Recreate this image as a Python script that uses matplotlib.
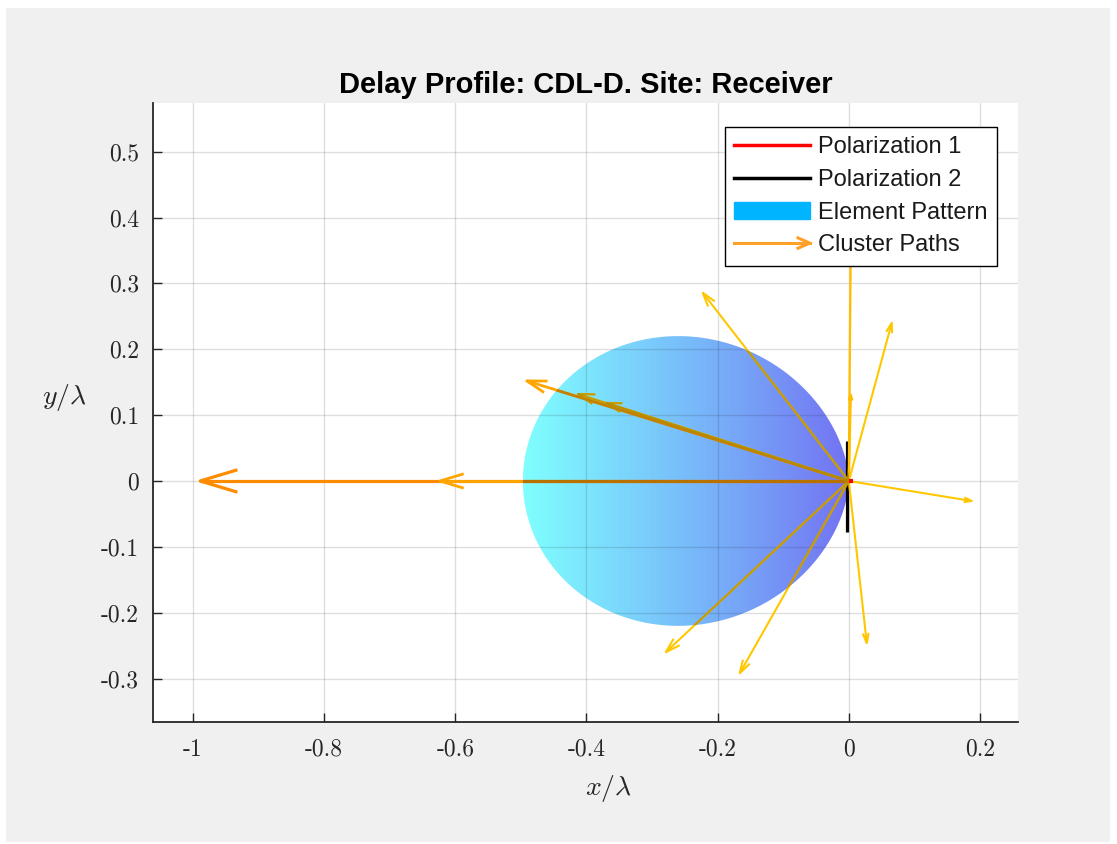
import numpy as np
import matplotlib
matplotlib.use('Agg')
import matplotlib.pyplot as plt
from matplotlib.colors import LinearSegmentedColormap
from matplotlib.patches import Polygon, Rectangle, Patch
from matplotlib.lines import Line2D
from matplotlib.legend_handler import HandlerBase

plt.rcParams['mathtext.fontset'] = 'cm'

# ---------------- data ----------------
# cluster path end points (x/lambda, y/lambda), arrows start at the origin
path_dx = [-0.989, -0.6235, -0.491, -0.413, -0.369, -0.2226, 0.003, 0.003,
           0.0655, 0.1875, 0.0274, -0.1662, -0.279]
path_dy = [0.0, 0.0, 0.152, 0.132, 0.1185, 0.2857, 0.37, 0.131,
           0.2401, -0.0304, -0.2462, -0.2918, -0.2599]
# relative path power (dB) -> arrow colour
path_power_db = [0, -4, -4, -10, -10, -10, -8, -8, -10, -10, -10, -10, -10]

# polarization vectors
pol1_x = [0.0, 0.007]
pol1_y = [0.0, 0.0]
pol2_x = [-0.002, -0.002]
pol2_y = [0.06, -0.078]

# element pattern (cut in the azimuth plane): r = depth * cos(phi)^exponent, pointing to -x
pattern_depth = 0.497
pattern_exponent = 1.4

xticks = [-1.0, -0.8, -0.6, -0.4, -0.2, 0.0, 0.2]
xticklabels = ['-1', '-0.8', '-0.6', '-0.4', '-0.2', '0', '0.2']
yticks = [-0.3, -0.2, -0.1, 0.0, 0.1, 0.2, 0.3, 0.4, 0.5]
yticklabels = ['-0.3', '-0.2', '-0.1', '0', '0.1', '0.2', '0.3', '0.4', '0.5']

title = 'Delay Profile: CDL-D. Site: Receiver'
legend_labels = ['Polarization 1', 'Polarization 2', 'Element Pattern', 'Cluster Paths']

# ---------------- figure ----------------
W, H = 1117, 844
fig = plt.figure(figsize=(W / 100, H / 100), dpi=100, facecolor='white')
fig.patches.append(Rectangle((6 / W, 2 / H), (1110 - 6) / W, (836 - 2) / H,
                             transform=fig.transFigure, facecolor='#f0f0f0',
                             edgecolor='none', zorder=-10))
ax = fig.add_axes([153 / W, 122 / H, 865 / W, 619 / H])
ax.set_facecolor('white')

# element pattern shape
phi = np.linspace(-np.pi / 2, np.pi / 2, 600)
r = pattern_depth * np.cos(phi) ** pattern_exponent
pat_x = -r * np.cos(phi)
pat_y = r * np.sin(phi)
poly = Polygon(np.column_stack([pat_x, pat_y]), closed=True,
               facecolor='none', edgecolor='none')
ax.add_patch(poly)
pat_cmap = LinearSegmentedColormap.from_list(
    'pat', [(0.5, 1.0, 1.0), (0.47, 0.74, 0.98), (0.45, 0.45, 0.95)])
grad = np.linspace(0, 1, 256)[None, :]
img = ax.imshow(grad, extent=[-pattern_depth, 0, -0.25, 0.25], cmap=pat_cmap,
                aspect='auto', zorder=1, interpolation='bilinear', origin='lower')
img.set_clip_path(poly)

# cluster path arrows
arrow_cmap = LinearSegmentedColormap.from_list(
    'arr', [(1.0, 0.78, 0.0), (1.0, 0.67, 0.0), (1.0, 0.55, 0.0)])
pmin, pmax = min(path_power_db), max(path_power_db)
for dx, dy, p in zip(path_dx, path_dy, path_power_db):
    t = (p - pmin) / (pmax - pmin)
    col = np.array(arrow_cmap(t)[:3])
    lw = 1.5 + 0.8 * t
    L = np.hypot(dx, dy)
    ux, uy = dx / L, dy / L
    h = 0.055 * L
    w = 0.3 * h
    bx1, by1 = dx - h * ux - w * uy, dy - h * uy + w * ux
    bx2, by2 = dx - h * ux + w * uy, dy - h * uy - w * ux
    for clip in (False, True):
        c = col if not clip else col * 0.7
        a = 1.0 if not clip else 0.75
        lines = ax.plot([0, dx], [0, dy], color=c, alpha=a, lw=lw,
                        solid_capstyle='butt', zorder=3 + (0.1 if clip else 0))
        lines += ax.plot([bx1, dx, bx2], [by1, dy, by2], color=c, alpha=a,
                         lw=lw, zorder=3 + (0.1 if clip else 0))
        if clip:
            for ln in lines:
                ln.set_clip_path(poly)

# polarization
ax.plot(pol2_x, pol2_y, color='black', lw=2.3, zorder=2.8, solid_capstyle='butt')
ax.plot(pol1_x, pol1_y, color='red', lw=3.0, zorder=5, solid_capstyle='butt')

# axes styling
ax.set_xlim(-1.061, 0.258)
ax.set_ylim(-0.366, 0.574)
ax.set_xticks(xticks)
ax.set_yticks(yticks)
ax.set_xticklabels(xticklabels, fontfamily='cmr10', fontsize=17)
ax.set_yticklabels(yticklabels, fontfamily='cmr10', fontsize=17)
ax.tick_params(direction='in', length=6.5, width=1.0, colors='#262626',
               top=False, right=False)
ax.tick_params(axis='x', pad=12)
ax.tick_params(axis='y', pad=10)
ax.spines['top'].set_visible(False)
ax.spines['right'].set_visible(False)
for s in ('left', 'bottom'):
    ax.spines[s].set_color('#262626')
    ax.spines[s].set_linewidth(1.3)
ax.set_axisbelow(False)
ax.grid(True, color=(0.15, 0.15, 0.15), alpha=0.15, lw=1.0)

ax.set_xlabel(r'$x/\lambda$', fontsize=20, color='#262626', va='center')
ax.xaxis.set_label_coords(0.527, -0.107)
ax.set_ylabel(r'$y/\lambda$', fontsize=20, color='#262626', rotation=0,
              ha='center', va='center')
ax.yaxis.set_label_coords(-0.102, 0.525)

ax.set_title(title, fontsize=21, fontweight='bold', family='Liberation Sans',
             color='black', pad=7)


class ArrowHandler(HandlerBase):
    def create_artists(self, legend, orig_handle, xdescent, ydescent, width,
                       height, fontsize, trans):
        y = height / 2 - ydescent
        x0, x1 = -xdescent, width - xdescent
        col = orig_handle.get_color()
        hl = 0.5 * fontsize
        hw = 0.22 * fontsize
        shaft = Line2D([x0, x1], [y, y], color=col, lw=2.2, transform=trans)
        head = Line2D([x1 - hl, x1, x1 - hl], [y + hw, y, y - hw], color=col,
                      lw=2.2, transform=trans)
        return [shaft, head]


h1 = Line2D([], [], color='red', lw=2.5)
h2 = Line2D([], [], color='black', lw=2.5)
h3 = Patch(facecolor='#00b4ff', edgecolor='#00b4ff')
h4 = Line2D([], [], color='#ffa028', lw=2.2)
leg = ax.legend([h1, h2, h3, h4], legend_labels, loc='upper right',
                bbox_to_anchor=(0.9757, 0.9612), borderaxespad=0,
                prop={'family': 'Liberation Sans', 'size': 17},
                handlelength=3.2, handletextpad=0.35, borderpad=0.4,
                labelspacing=0.45, fancybox=False, framealpha=1,
                edgecolor='black', handler_map={h4: ArrowHandler()})
leg.get_frame().set_linewidth(1.0)
leg.set_zorder(10)
for txt in leg.get_texts():
    txt.set_color('#1a1a1a')

fig.savefig('out.png', dpi=100, facecolor=fig.get_facecolor())
